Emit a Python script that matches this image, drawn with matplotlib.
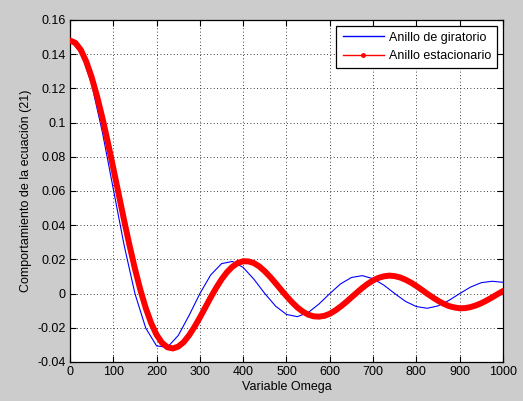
import matplotlib
matplotlib.use("Agg")
import matplotlib.pyplot as plt
from matplotlib.lines import Line2D

plt.rcParams['font.family'] = ['Liberation Sans', 'DejaVu Sans']

# valores leidos del grafico
# anillo de giratorio: paso de 25 en Omega
omega_gir = [0, 25, 50, 75, 100, 125, 150, 175, 200, 225, 250, 275, 300, 325,
             350, 375, 400, 425, 450, 475, 500, 525, 550, 575, 600, 625, 650,
             675, 700, 725, 750, 775, 800, 825, 850, 875, 900, 925, 950, 975,
             1000]

giratorio = [0.148, 0.1413, 0.1224, 0.0942, 0.0612, 0.0283, 0.0, -0.0202,
             -0.0306, -0.0314, -0.0245, -0.0128, 0.0, 0.0109, 0.0175, 0.0188,
             0.0153, 0.0083, 0.0, -0.0074, -0.0122, -0.0135, -0.0111, -0.0061,
             0.0, 0.0057, 0.0094, 0.0105, 0.0087, 0.0049, 0.0, -0.0046, -0.0076,
             -0.0086, -0.0072, -0.0040, 0.0, 0.0038, 0.0064, 0.0072, 0.0066]

# anillo estacionario: paso de 12.5 en Omega
omega_est = [0, 12.5, 25, 37.5, 50, 62.5, 75, 87.5, 100, 112.5, 125, 137.5,
             150, 162.5, 175, 187.5, 200, 212.5, 225, 237.5, 250, 262.5, 275,
             287.5, 300, 312.5, 325, 337.5, 350, 362.5, 375, 387.5, 400, 412.5,
             425, 437.5, 450, 462.5, 475, 487.5, 500, 512.5, 525, 537.5, 550,
             562.5, 575, 587.5, 600, 612.5, 625, 637.5, 650, 662.5, 675, 687.5,
             700, 712.5, 725, 737.5, 750, 762.5, 775, 787.5, 800, 812.5, 825,
             837.5, 850, 862.5, 875, 887.5, 900, 912.5, 925, 937.5, 950, 962.5,
             975, 987.5, 1000]

estacionario = [0.148, 0.1466, 0.1425, 0.1357, 0.1266, 0.1154, 0.1026, 0.0884,
                0.0734, 0.0581, 0.0428, 0.0282, 0.0145, 0.0022, -0.0085, -0.0173,
                -0.0241, -0.0288, -0.0314, -0.0321, -0.0310, -0.0284, -0.0244,
                -0.0195, -0.0140, -0.0081, -0.0022, 0.0033, 0.0083, 0.0125,
                0.0157, 0.0179, 0.0189, 0.0188, 0.0178, 0.0158, 0.0130, 0.0097,
                0.0060, 0.0022, -0.0015, -0.0050, -0.0081, -0.0105, -0.0123,
                -0.0133, -0.0135, -0.0130, -0.0118, -0.0099, -0.0076, -0.0050,
                -0.0022, 0.0006, 0.0033, 0.0057, 0.0077, 0.0092, 0.0101, 0.0105,
                0.0102, 0.0094, 0.0081, 0.0064, 0.0044, 0.0022, -0.0001, -0.0022,
                -0.0042, -0.0059, -0.0073, -0.0081, -0.0086, -0.0085, -0.0079,
                -0.0069, -0.0056, -0.0040, -0.0022, -0.0003, 0.0015]

xticks = [0, 100, 200, 300, 400, 500, 600, 700, 800, 900, 1000]
yticks = [-0.04, -0.02, 0, 0.02, 0.04, 0.06, 0.08, 0.1, 0.12, 0.14, 0.16]
ytick_labels = ['-0.04', '-0.02', '0', '0.02', '0.04', '0.06', '0.08', '0.1',
                '0.12', '0.14', '0.16']

fig = plt.figure(figsize=(5.23, 4.01), dpi=100, facecolor='#cccccc')
ax = fig.add_axes([0.1338, 0.0973, 0.828, 0.8529])
ax.set_facecolor('white')

ax.plot(omega_gir, giratorio, color='blue', lw=0.8, zorder=3)
ax.plot(omega_est, estacionario, color='red', lw=4.3, solid_capstyle='round',
        solid_joinstyle='round', zorder=4)

ax.set_xlim(0, 1000)
ax.set_ylim(-0.04, 0.16)
ax.set_xticks(xticks)
ax.set_yticks(yticks)
ax.set_yticklabels(ytick_labels)
ax.tick_params(direction='in', length=4, width=0.8, top=True, right=True,
               labelsize=9, pad=3, colors='black')
ax.grid(True, linestyle=(0, (1, 3)), color='black', lw=0.6)
for s in ax.spines.values():
    s.set_linewidth(0.9)
    s.set_color('black')

ax.set_xlabel('Variable Omega', fontsize=9, labelpad=2)
ax.set_ylabel('Comportamiento de la ecuación (21)', fontsize=9, labelpad=4)

handles = [Line2D([], [], color='blue', lw=1),
           Line2D([], [], color='red', lw=1, marker='.', markersize=5)]
leg = ax.legend(handles, ['Anillo de giratorio', 'Anillo estacionario'],
                loc='upper right', fontsize=9, handlelength=3.3,
                fancybox=False, framealpha=1, edgecolor='black',
                borderaxespad=0.45, borderpad=0.5, labelspacing=0.5,
                handletextpad=0.4)
leg.get_frame().set_linewidth(0.9)
leg.set_zorder(10)

fig.savefig('out.png', dpi=100, facecolor=fig.get_facecolor())
